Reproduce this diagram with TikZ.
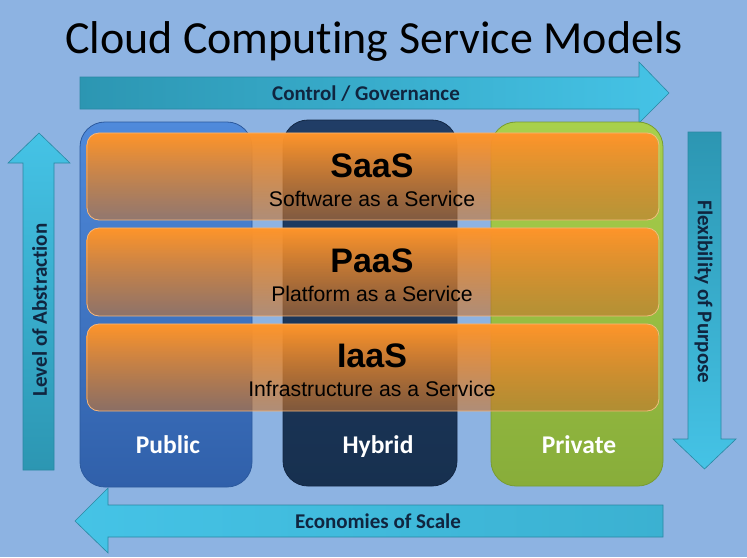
\documentclass[tikz,border=0pt]{standalone}
\usepackage{fontspec}
\setmainfont{Carlito}[Ligatures=NoCommon]
\newfontfamily\arialf{Liberation Sans}
\usetikzlibrary{fadings}
\definecolor{bg}{HTML}{8DB3E2}
\definecolor{arrowdark}{HTML}{2C96B2}
\definecolor{arrowlight}{HTML}{45C3E6}
\definecolor{arrowedge}{HTML}{2A88A3}
\definecolor{labelnavy}{HTML}{10253F}
\definecolor{pubtop}{HTML}{4F8ADB}
\definecolor{pubbot}{HTML}{3060AA}
\definecolor{pubedge}{HTML}{2C5A9E}
\definecolor{hybtop}{HTML}{203D66}
\definecolor{hybbot}{HTML}{17304F}
\definecolor{hybedge}{HTML}{132845}
\definecolor{privtop}{HTML}{A8D04C}
\definecolor{privbot}{HTML}{88AD3A}
\definecolor{privedge}{HTML}{789C32}
\definecolor{bartop}{HTML}{FF952A}
\definecolor{barbot}{HTML}{C8732C}
\definecolor{barline}{HTML}{F6B77C}
\tikzfading[name=barfade, top color=transparent!0, middle color=transparent!8, bottom color=transparent!42]
\tikzset{
  arrowshape/.style={draw=arrowedge, line width=0.6pt},
  colbox/.style={rounded corners=25pt, line width=0.8pt},
  barbox/.style={rounded corners=12pt},
  arrowlabel/.style={font=\fontsize{21}{22}\selectfont\bfseries, text=labelnavy, inner sep=0pt},
  collabel/.style={font=\fontsize{25.5}{26}\selectfont\bfseries, text=white, inner sep=0pt},
  bartitle/.style={font=\arialf\fontsize{34}{36}\selectfont\bfseries, inner sep=0pt},
  barsub/.style={font=\arialf\fontsize{21.2}{22}\selectfont, inner sep=0pt},
}
\begin{document}
\begin{tikzpicture}[x=1pt,y=-1pt]
\fill[bg] (0,0) rectangle (747,557);
\useasboundingbox (0,0) rectangle (747,557);

% title
\node[font=\fontsize{46}{48}\selectfont, anchor=base, inner sep=0pt] (title) at (374,53) {Cloud Comput\kern0pt ing Service Models};

% top arrow (Control / Governance)
\path[arrowshape, left color=arrowdark, right color=arrowlight]
  (80,77) -- (639,77) -- (639,62) -- (669,93) -- (639,123) -- (639,109) -- (80,109) -- cycle;
\node[arrowlabel, anchor=base] (control) at (366,100) {Control / Governance};

% left arrow (Level of Abstraction)
\path[arrowshape, bottom color=arrowdark, top color=arrowlight]
  (23,470) -- (23,163) -- (8,163) -- (39,133) -- (70,163) -- (54,163) -- (54,470) -- cycle;
\node[arrowlabel, rotate=90] (abstraction) at (39.5,310) {Level of Abstraction};

% right arrow (Flexibility of Purpose)
\path[arrowshape, top color=arrowdark, bottom color=arrowlight]
  (688,132) -- (721,132) -- (721,439) -- (736,439) -- (704.5,469) -- (673,439) -- (688,439) -- cycle;
\node[arrowlabel, rotate=-90] (flexibility) at (703.5,292) {Flexibility of Purpose};

% bottom arrow (Economies of Scale)
\path[arrowshape, left color=arrowlight, right color=arrowdark!40!arrowlight]
  (663,505) -- (108,505) -- (108,488) -- (75,521) -- (108,553) -- (108,537) -- (663,537) -- cycle;
\node[arrowlabel, anchor=base] (economies) at (378,528) {Economies of Scale};

% columns
\path[colbox, draw=pubedge, top color=pubtop, bottom color=pubbot] (80,122) rectangle (252,487);
\path[colbox, draw=hybedge, top color=hybtop, bottom color=hybbot] (283,120) rectangle (457,486);
\path[colbox, draw=privedge, top color=privtop, bottom color=privbot] (491,122) rectangle (663,486);
\node[collabel, anchor=base] (public) at (168,453) {Public};
\node[collabel, anchor=base] (hybrid) at (378,453) {Hybrid};
\node[collabel, anchor=base] (private) at (579,453) {Private};

% service bars
\foreach \t/\b in {133/220, 228/316, 324/411}{
  \path[barbox, top color=bartop, bottom color=barbot, path fading=barfade] (87,\t) rectangle (659,\b);
  \draw[barbox, draw=barline, line width=0.8pt] (87,\t) rectangle (659,\b);
}
\node[bartitle, anchor=base] (saas) at (372,177) {SaaS};
\node[barsub, anchor=base] (saassub) at (372,206) {Software as a Service};
\node[bartitle, anchor=base] (paas) at (372,272) {PaaS};
\node[barsub, anchor=base] (paassub) at (372,301) {Platform as a Service};
\node[bartitle, anchor=base] (iaas) at (372,367) {IaaS};
\node[barsub, anchor=base] (iaassub) at (372,396) {Infrastructure as a Service};
\end{tikzpicture}
\end{document}
